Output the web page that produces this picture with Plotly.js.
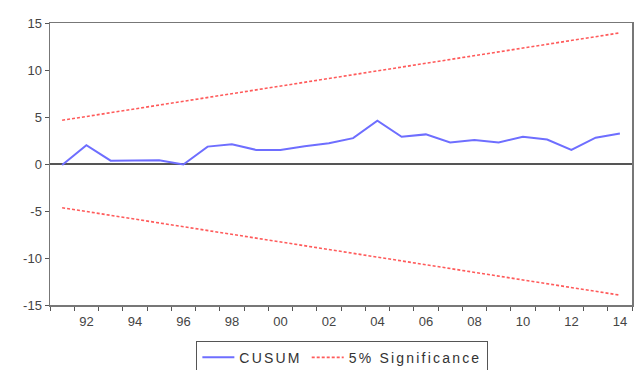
<!DOCTYPE html>
<html>
<head>
<meta charset="utf-8">
<script src="https://cdn.plot.ly/plotly-3.0.1.min.js"></script>
<style>html,body{margin:0;padding:0;background:#fff;}#chart{width:635px;height:370px;}
.legendtext{letter-spacing:2.2px;}</style>
</head>
<body>
<div id="chart"></div>
<script>
const years = [1991,1992,1993,1994,1995,1996,1997,1998,1999,2000,2001,2002,2003,2004,2005,2006,2007,2008,2009,2010,2011,2012,2013,2014];
const cusum = [-0.1,2.0,0.35,0.35,0.4,-0.05,1.85,2.1,1.5,1.5,1.9,2.2,2.75,4.6,2.9,3.15,2.3,2.55,2.3,2.9,2.6,1.5,2.8,3.25];
const boundYears = [1991,2014];
const upper = [4.65,13.95];
const lower = [-4.65,-13.95];
const tickYears = [1992,1994,1996,1998,2000,2002,2004,2006,2008,2010,2012,2014];
const tickLabels = ['92','94','96','98','00','02','04','06','08','10','12','14'];
const yTicks = [-15,-10,-5,0,5,10,15];
const yTickLabels = ['-15','-10','-5','0','5','10','15'];

const red = '#ff5a5a';
const traces = [
  {x: years, y: cusum, type:'scatter', mode:'lines', name:'CUSUM',
   line:{color:'#6e6eff', width:2}},
  {x: boundYears, y: upper, type:'scatter', mode:'lines', name:'5% Significance',
   line:{color:red, width:1.6, dash:'3px,2px'}},
  {x: boundYears, y: lower, type:'scatter', mode:'lines', name:'5% Significance',
   showlegend:false, line:{color:red, width:1.6, dash:'3px,2px'}}
];

const layout = {
  width:635, height:370,
  margin:{l:50, r:3, t:23, b:65, autoexpand:false},
  paper_bgcolor:'#fff', plot_bgcolor:'#fff',
  font:{family:'Liberation Sans, Arial, sans-serif', size:13, color:'#444'},
  showlegend:true,
  legend:{orientation:'h', x:0.502, xanchor:'center', y:-0.126, yanchor:'top',
    bordercolor:'#555', borderwidth:1.2, font:{size:14, color:'#333'},
    itemwidth:32, tracegroupgap:0},
  xaxis:{range:[1990.5,2014.5], tickmode:'array', tickvals:tickYears, ticktext:tickLabels,
    ticks:'', showgrid:false, zeroline:false, showline:true, mirror:true,
    linecolor:'#777', linewidth:1.5, ticklabelstandoff:4,
    minor:{tickmode:'linear', tick0:0.5, dtick:1, ticks:'outside', ticklen:4, tickcolor:'#555', tickwidth:1, showgrid:false}},
  yaxis:{range:[-15,15], tickmode:'array', tickvals:yTicks, ticktext:yTickLabels, ticks:'outside', ticklen:4,
    tickcolor:'#555', showgrid:false, zeroline:true, zerolinecolor:'#555', zerolinewidth:1.5,
    showline:true, mirror:true, linecolor:'#777', linewidth:1.5}
};

Plotly.newPlot('chart', traces, layout, {displayModeBar:false, staticPlot:true});
</script>
</body>
</html>
